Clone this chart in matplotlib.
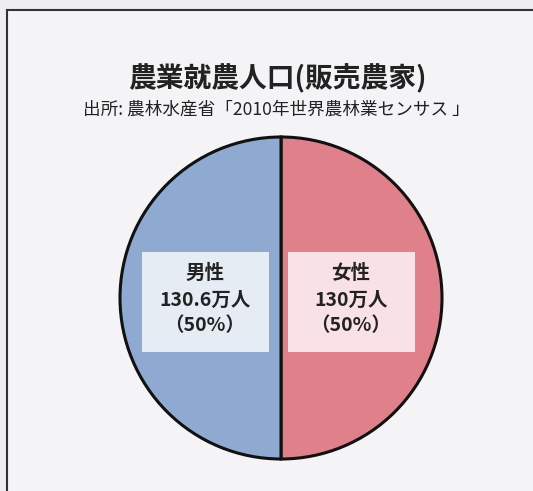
import matplotlib.pyplot as plt
from matplotlib.patches import Rectangle

plt.rcParams['font.family'] = ['Noto Sans CJK JP', 'DejaVu Sans']

# data
labels = ["女性", "男性"]
values = [130.0, 130.6]   # 万人
shares = [50, 50]         # % as printed
colors = ["#e0808a", "#8eaad0"]

title = "農業就農人口(販売農家)"
source = "出所: 農林水産省「2010年世界農林業センサス 」"

W, H = 533, 491
fig = plt.figure(figsize=(W / 100, H / 100), dpi=100)
fig.patch.set_facecolor("#eeeef0")
ax = fig.add_axes([0, 0, 1, 1])
ax.set_xlim(0, W)
ax.set_ylim(0, H)
ax.set_aspect("equal")
ax.axis("off")

# frame of the figure box
ax.add_patch(Rectangle((7, -5), W + 10, H - 10 + 5, fill=True,
                       facecolor="#f4f4f6", edgecolor="#333333", lw=1.5))

cx, cy, r = 281, H - 298, 161
ax.pie(shares, colors=colors, startangle=90, counterclock=False,
       center=(cx, cy), radius=r,
       wedgeprops=dict(edgecolor="#111111", linewidth=2.2))
ax.set_xlim(0, W)
ax.set_ylim(0, H)

ax.text(277, H - 79, title, ha="center", va="center", fontsize=20,
        fontweight="bold", color="#222222")
ax.text(276, H - 110, source, ha="center", va="center", fontsize=12.7,
        color="#222222")

# label boxes
box_x = {"男性": 142, "女性": 288}
for lab, val, pct in zip(labels, values, shares):
    x0 = box_x[lab]
    ax.add_patch(Rectangle((x0, H - 352), 127, 100, facecolor="white",
                           edgecolor="none", alpha=0.78))
    xc = x0 + 63
    vtxt = f"{val:g}万人"
    ax.text(xc, H - 273, lab, ha="center", va="center", fontsize=14,
            fontweight="bold", color="#222222")
    ax.text(xc, H - 300, vtxt, ha="center", va="center", fontsize=14,
            fontweight="bold", color="#222222")
    ax.text(xc, H - 326, f"（{pct}%）", ha="center", va="center",
            fontsize=14, fontweight="bold", color="#222222")

fig.savefig("out.png", dpi=100, facecolor=fig.get_facecolor())
